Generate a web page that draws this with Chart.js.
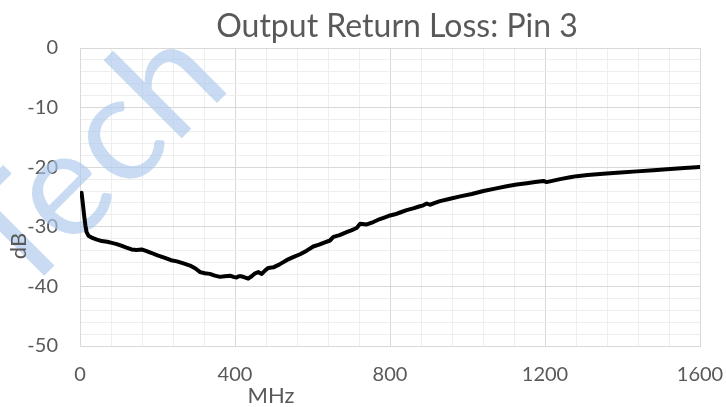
<!DOCTYPE html>
<html>
<head>
<meta charset="utf-8">
<script src="https://cdn.jsdelivr.net/npm/chart.js@4"></script>
<style>
  html, body { margin: 0; padding: 0; background: #ffffff; }
  #wrap { width: 726px; height: 407px; position: relative; }
</style>
</head>
<body>
<div id="wrap"><canvas id="c" width="726" height="407"></canvas></div>
<script>
// ---- data ----
const chartTitle = "Output Return Loss: Pin 3";
const xAxisTitle = "MHz";
const yAxisTitle = "dB";
const watermarkText = "Tech";

const freqMHz = [4, 8, 11, 14, 17, 22, 30, 42, 56, 70, 82, 95, 108, 120, 133, 146, 159, 172, 185, 200,
  219, 235, 250, 265, 284, 298, 310, 322, 335, 348, 361, 374, 387, 396, 404, 410, 417, 425, 434, 443,
  452, 460, 469, 478, 486, 499, 515, 533, 550, 568, 585, 602, 617, 632, 645, 654, 670, 688, 700, 714,
  723, 740, 757, 774, 787, 800, 813, 826, 843, 860, 875, 886, 895, 903, 916, 929, 955, 981, 1011, 1041,
  1071, 1101, 1127, 1153, 1175, 1196, 1204, 1239, 1265, 1282, 1310, 1350, 1395, 1437, 1480, 1523, 1560, 1600];

const returnLossDb = [-24.3, -26.5, -28.3, -29.8, -30.9, -31.5, -31.8, -32.1, -32.4, -32.5, -32.7, -32.9, -33.2, -33.5, -33.8, -33.9, -33.8, -34.1, -34.4, -34.8,
  -35.2, -35.6, -35.8, -36.1, -36.5, -37.0, -37.6, -37.8, -37.9, -38.2, -38.4, -38.3, -38.2, -38.4, -38.5, -38.3, -38.3, -38.5, -38.7, -38.3,
  -37.8, -37.6, -37.9, -37.3, -36.9, -36.8, -36.3, -35.6, -35.1, -34.6, -34.0, -33.3, -33.0, -32.6, -32.3, -31.7, -31.4, -30.9, -30.6, -30.2,
  -29.5, -29.6, -29.2, -28.7, -28.4, -28.1, -27.9, -27.6, -27.2, -26.9, -26.6, -26.4, -26.1, -26.3, -26.0, -25.7, -25.3, -24.9, -24.5, -24.0,
  -23.6, -23.2, -22.9, -22.7, -22.5, -22.3, -22.5, -22.0, -21.7, -21.5, -21.3, -21.1, -20.9, -20.7, -20.5, -20.3, -20.15, -19.95];

const xMin = 0, xMax = 1600, xMajor = 400, xMinor = 80;
const yMin = -50, yMax = 0, yMajor = 10, yMinor = 2;

const textColor = "#595959";
const majorGrid = "#d9d9d9";
const minorGrid = "#eeeeee";
const fontFamily = "Lato, 'Open Sans', sans-serif";

const points = freqMHz.map((f, i) => ({ x: f, y: returnLossDb[i] }));

function isMajor(v, step) {
  const r = Math.abs(v / step - Math.round(v / step));
  return r < 1e-6;
}

const decorPlugin = {
  id: 'decor',
  beforeDatasetsDraw(chart) {
    const ctx = chart.ctx;
    ctx.save();
    ctx.fillStyle = "rgba(170, 200, 236, 0.65)";
    ctx.font = "150px Lato, sans-serif";
    ctx.translate(18, 302);
    ctx.rotate(-45 * Math.PI / 180);
    ctx.textBaseline = "alphabetic";
    ctx.textAlign = "left";
    ctx.fillText(watermarkText, 0, 0);
    ctx.restore();
  },
  afterDraw(chart) {
    const ctx = chart.ctx;
    ctx.save();
    ctx.fillStyle = textColor;
    ctx.textBaseline = "alphabetic";
    ctx.textAlign = "center";
    ctx.font = "32px " + fontFamily;
    ctx.fillText(chartTitle, 397, 37);
    ctx.font = "22px " + fontFamily;
    ctx.fillText(xAxisTitle, 271, 403);
    ctx.translate(26, 246);
    ctx.rotate(-Math.PI / 2);
    ctx.fillText(yAxisTitle, 0, 0);
    ctx.restore();
  }
};

new Chart(document.getElementById('c'), {
  type: 'line',
  data: {
    datasets: [{
      data: points,
      borderColor: '#000000',
      borderWidth: 4,
      borderJoinStyle: 'round',
      borderCapStyle: 'round',
      pointRadius: 0,
      tension: 0,
      fill: false
    }]
  },
  options: {
    responsive: false,
    animation: false,
    devicePixelRatio: 1,
    layout: { padding: { left: 0, right: 26, top: 48, bottom: 0 } },
    plugins: {
      legend: { display: false },
      tooltip: { enabled: false },
      title: { display: false }
    },
    scales: {
      x: {
        type: 'linear',
        min: xMin, max: xMax,
        afterBuildTicks(scale) {
          const t = [];
          for (let v = xMin; v <= xMax + 1e-9; v += xMinor) t.push({ value: v });
          scale.ticks = t;
        },
        afterFit(scale) { scale.height = 61; scale.paddingRight = 0; scale.paddingLeft = 0; },
        ticks: {
          autoSkip: false,
          maxRotation: 0,
          color: textColor,
          font: { family: fontFamily, size: 20 },
          padding: 17,
          callback: (v) => isMajor(v, xMajor) ? String(v) : ''
        },
        grid: {
          color: (c) => isMajor(c.tick.value, xMajor) ? majorGrid : minorGrid,
          lineWidth: 1,
          drawTicks: false,
          tickLength: 0
        },
        border: { display: true, color: majorGrid, width: 1 }
      },
      y: {
        type: 'linear',
        min: yMin, max: yMax,
        afterBuildTicks(scale) {
          const t = [];
          for (let v = yMin; v <= yMax + 1e-9; v += yMinor) t.push({ value: Math.round(v * 1000) / 1000 });
          scale.ticks = t;
        },
        afterFit(scale) { scale.width = 80; },
        ticks: {
          autoSkip: false,
          color: textColor,
          font: { family: fontFamily, size: 20 },
          padding: 22,
          callback: (v) => isMajor(v, yMajor) ? String(v) : ''
        },
        grid: {
          color: (c) => isMajor(c.tick.value, yMajor) ? majorGrid : minorGrid,
          lineWidth: 1,
          drawTicks: false,
          tickLength: 0
        },
        border: { display: true, color: majorGrid, width: 1 }
      }
    }
  },
  plugins: [decorPlugin]
});
</script>
</body>
</html>
